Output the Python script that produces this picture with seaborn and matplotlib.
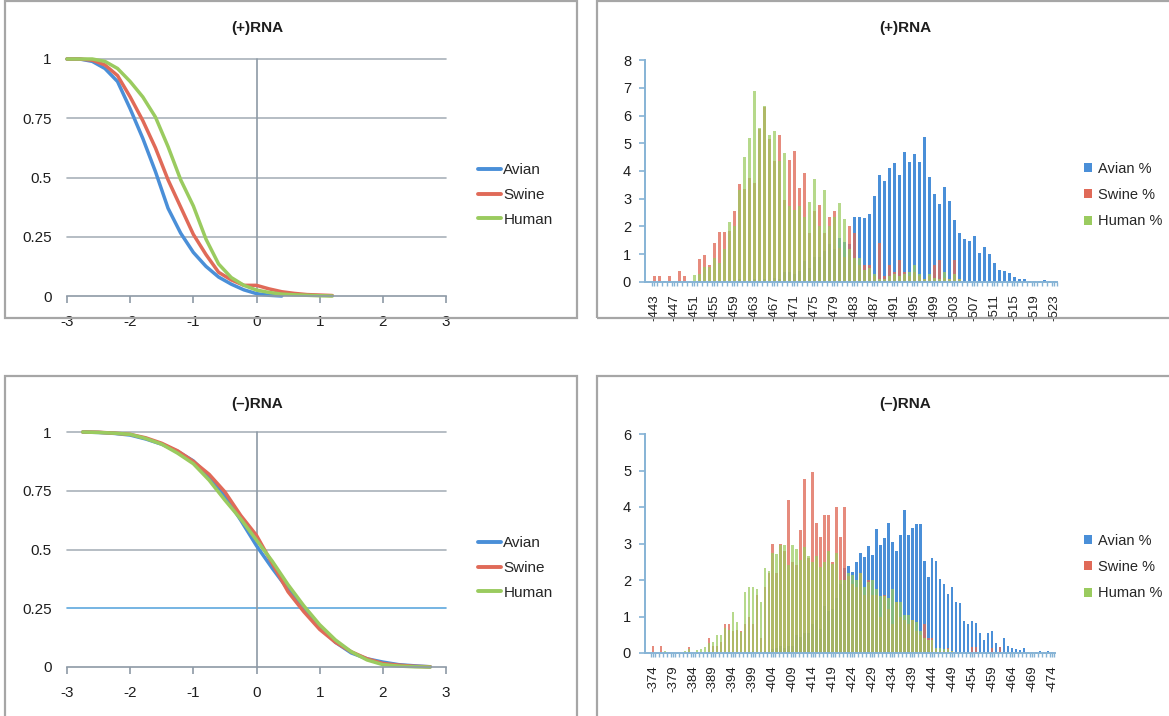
import numpy as np
import pandas as pd
import matplotlib
matplotlib.use("Agg")
import matplotlib.pyplot as plt
import seaborn as sns
from matplotlib.patches import Rectangle, Patch
from matplotlib.lines import Line2D

# ---------------- data ----------------
# Top-left: (+)RNA cumulative curves
plus_avian_x = [-3.0, -2.8, -2.6, -2.4, -2.2, -2.0, -1.8, -1.6, -1.4, -1.2, -1.0, -0.8, -0.6, -0.4, -0.2, 0.0, 0.2, 0.4]
plus_avian_y = [1.0, 1.0, 0.99, 0.96, 0.905, 0.79, 0.665, 0.525, 0.37, 0.265, 0.184, 0.125, 0.08, 0.05, 0.026, 0.01, 0.003, 0.0]
plus_swine_x = [-3.0, -2.8, -2.6, -2.4, -2.2, -2.0, -1.8, -1.6, -1.4, -1.2, -1.0, -0.8, -0.6, -0.4, -0.2, 0.0, 0.2, 0.4, 0.6, 0.8, 1.0, 1.2]
plus_swine_y = [1.0, 1.0, 0.995, 0.975, 0.93, 0.84, 0.74, 0.625, 0.49, 0.375, 0.26, 0.175, 0.1, 0.068, 0.045, 0.045, 0.03, 0.018, 0.011, 0.006, 0.004, 0.002]
plus_human_x = [-3.0, -2.8, -2.6, -2.4, -2.2, -2.0, -1.8, -1.6, -1.4, -1.2, -1.0, -0.8, -0.6, -0.4, -0.2, 0.0, 0.2, 0.4, 0.6, 0.8, 1.0, 1.2]
plus_human_y = [1.0, 1.0, 1.0, 0.99, 0.96, 0.905, 0.84, 0.755, 0.63, 0.49, 0.38, 0.24, 0.135, 0.078, 0.045, 0.025, 0.015, 0.008, 0.005, 0.003, 0.001, 0.0]

# Bottom-left: (-)RNA cumulative curves
minus_x = [-2.75, -2.5, -2.25, -2.0, -1.75, -1.5, -1.25, -1.0, -0.75, -0.5, -0.25, 0.0,
           0.25, 0.5, 0.75, 1.0, 1.25, 1.5, 1.75, 2.0, 2.25, 2.5, 2.75]
minus_avian_y = [1.0, 0.998, 0.994, 0.987, 0.97, 0.948, 0.918, 0.877, 0.81, 0.728, 0.625, 0.516,
                 0.42, 0.33, 0.255, 0.17, 0.105, 0.06, 0.035, 0.021, 0.01, 0.005, 0.001]
minus_swine_y = [1.0, 0.999, 0.995, 0.99, 0.975, 0.952, 0.92, 0.875, 0.82, 0.745, 0.645, 0.56,
                 0.44, 0.32, 0.235, 0.16, 0.105, 0.065, 0.035, 0.015, 0.008, 0.003, 0.001]
minus_human_y = [1.0, 0.998, 0.995, 0.99, 0.972, 0.948, 0.91, 0.865, 0.795, 0.71, 0.63, 0.54,
                 0.45, 0.35, 0.26, 0.18, 0.115, 0.065, 0.03, 0.01, 0.004, 0.001, 0.0]

# Top-right: (+)RNA histogram, categories -443 ... -523
plus_cats = [str(v) for v in range(-443, -524, -1)]
plus_avian_pct = [0, 0, 0.05, 0, 0, 0, 0, 0, 0, 0,
                  0, 0, 0, 0.05, 0, 0, 0, 0.1, 0, 0.05,
                  0.1, 0, 0.12, 0.05, 0.15, 0.1, 0.35, 0.35, 0.3, 0.4,
                  0.75, 0.52, 0.9, 0.9, 1.12, 1.38, 1.2, 1.57, 1.45, 1.38,
                  2.35, 2.35, 2.3, 2.45, 3.1, 3.85, 3.65, 4.1, 4.28, 3.86,
                  4.68, 4.32, 4.6, 4.33, 5.23, 3.8, 3.17, 2.81, 3.43, 2.92,
                  2.23, 1.76, 1.54, 1.49, 1.66, 1.06, 1.26, 1.0, 0.68, 0.44,
                  0.38, 0.32, 0.18, 0.11, 0.1, 0.02, 0.05, 0.05, 0.08, 0.02, 0.02]
plus_swine_pct = [0.2, 0.2, 0, 0.2, 0, 0.4, 0.2, 0, 0, 0.83,
                  0.98, 0.62, 1.4, 1.8, 1.8, 1.85, 2.57, 3.53, 3.35, 3.75,
                  3.57, 5.5, 6.3, 5.15, 4.35, 5.3, 2.95, 4.4, 4.73, 3.37,
                  3.94, 1.75, 2.57, 2.77, 1.78, 2.35, 2.57, 1.21, 0.9, 2.0,
                  1.75, 0.6, 0.6, 0.6, 0.2, 1.39, 0.2, 0.6, 0.37, 0.8,
                  0.37, 0.2, 0.37, 0.2, 0.1, 0.2, 0.6, 0.8, 0.15, 0.1,
                  0.8, 0.1, 0, 0, 0, 0, 0, 0, 0, 0,
                  0, 0, 0, 0, 0, 0, 0, 0, 0, 0, 0]
plus_human_pct = [0, 0, 0, 0.05, 0, 0, 0, 0, 0.25, 0.3,
                  0.55, 0.55, 0.87, 0.7, 1.2, 2.15, 2.0, 3.3, 4.5, 5.2,
                  6.9, 5.55, 6.33, 5.3, 5.45, 4.35, 4.64, 2.74, 2.6, 2.74,
                  2.35, 2.9, 3.71, 2.03, 3.32, 2.03, 2.35, 2.83, 2.27, 1.2,
                  0.85, 0.85, 0.43, 0.5, 0.3, 0.1, 0.1, 0.2, 0.3, 0.2,
                  0.3, 0.35, 0.6, 0.3, 0.1, 0.3, 0.15, 0.1, 0.35, 0.1,
                  0.3, 0.1, 0, 0, 0, 0, 0, 0, 0, 0,
                  0, 0, 0, 0, 0, 0, 0, 0, 0, 0, 0]

# Bottom-right: (-)RNA histogram, categories -374 ... -474
minus_cats = [str(v) for v in range(-374, -475, -1)]
minus_avian_pct = [0, 0, 0, 0, 0, 0, 0, 0, 0, 0,
                   0, 0, 0, 0, 0, 0, 0, 0, 0, 0,
                   0.03, 0, 0, 0, 0, 0.05, 0, 0, 0.05, 0,
                   0.1, 0.15, 0.2, 0.15, 0.2, 0.2, 0.5, 0.45, 0.55, 0.55,
                   0.8, 0.9, 0.65, 1.3, 1.15, 1.2, 1.5, 1.9, 2.32, 2.37,
                   2.23, 2.5, 2.75, 2.62, 2.93, 2.68, 3.39, 2.96, 3.16, 3.55,
                   3.05, 2.79, 3.23, 3.92, 3.23, 3.42, 3.53, 3.53, 2.52, 2.09,
                   2.59, 2.52, 2.02, 1.88, 1.63, 1.82, 1.41, 1.36, 0.89, 0.8,
                   0.89, 0.81, 0.54, 0.36, 0.56, 0.61, 0.28, 0.17, 0.42, 0.19,
                   0.13, 0.1, 0.08, 0.15, 0.04, 0.02, 0.02, 0.05, 0.02, 0.05, 0.04]
minus_swine_pct = [0.19, 0, 0.19, 0, 0, 0, 0, 0, 0, 0.17,
                   0, 0, 0, 0, 0.4, 0.2, 0.2, 0.3, 0.8, 0.8,
                   0.6, 0.63, 0.6, 0.8, 1.0, 0.8, 1.6, 0.4, 1.8, 2.2,
                   3.0, 2.2, 2.98, 2.8, 4.19, 2.5, 2.4, 3.37, 4.78, 2.6,
                   4.97, 3.57, 3.19, 3.78, 3.78, 2.5, 3.99, 3.19, 3.99, 2.1,
                   1.9, 1.8, 2.2, 1.6, 2.0, 1.6, 1.6, 1.0, 1.6, 1.2,
                   0.8, 1.4, 1.0, 0.9, 0.8, 0.9, 0.6, 0.5, 0.8, 0.4,
                   0.4, 0.1, 0.05, 0.05, 0.15, 0.05, 0, 0, 0, 0,
                   0.17, 0.17, 0, 0, 0, 0.15, 0, 0.17, 0, 0,
                   0, 0, 0, 0, 0, 0, 0, 0, 0, 0, 0]
minus_human_pct = [0, 0, 0, 0.05, 0, 0, 0, 0, 0.05, 0.1,
                   0, 0.08, 0.1, 0.17, 0.28, 0.31, 0.49, 0.49, 0.68, 0.63,
                   1.11, 0.86, 0.58, 1.66, 1.82, 1.82, 1.75, 1.41, 2.32, 2.26,
                   2.75, 2.71, 2.95, 2.95, 2.4, 2.95, 2.85, 2.55, 2.9, 2.65,
                   2.5, 2.65, 2.35, 2.5, 2.8, 2.45, 2.75, 2.0, 2.0, 2.2,
                   2.15, 2.0, 2.2, 1.8, 1.95, 2.0, 1.75, 1.55, 1.55, 1.5,
                   1.75, 1.4, 1.4, 1.05, 1.05, 0.9, 0.85, 0.6, 0.4, 0.35,
                   0.35, 0.15, 0.15, 0.1, 0.1, 0.05, 0, 0, 0, 0,
                   0, 0, 0, 0, 0, 0, 0, 0, 0, 0,
                   0, 0, 0, 0, 0, 0, 0, 0, 0, 0, 0]

line_names = ["Avian", "Swine", "Human"]
bar_names = ["Avian %", "Swine %", "Human %"]

# ---------------- style ----------------
BLUE = "#4a8fd8"
RED = "#e06a58"
GREEN = "#9acb5f"
GRID = "#a9b2ba"
AXC = "#8e9aa6"
BAR_AX = "#86b3d5"
FRAME = "#a6a6a6"
TXT = "#1e1e1e"

sns.set_theme(style="white")
plt.rcParams["font.family"] = ["Liberation Sans", "DejaVu Sans"]
plt.rcParams["axes.unicode_minus"] = False

W, H = 1169, 716
fig = plt.figure(figsize=(W / 100, H / 100), dpi=100)
fig.patch.set_facecolor("white")


def add_ax(x0, y0, x1, y1):
    return fig.add_axes([x0 / W, 1 - y1 / H, (x1 - x0) / W, (y1 - y0) / H])


# frames
for (x0, y0, x1, y1) in [(5, 1, 577, 318), (597, 1, 1172, 318), (5, 376, 577, 720), (597, 376, 1172, 720)]:
    fig.add_artist(Rectangle((x0 / W, 1 - y1 / H), (x1 - x0) / W, (y1 - y0) / H,
                             transform=fig.transFigure, fill=False, edgecolor=FRAME, lw=1.6))


def line_panel(ax, series, legend_y, blue_quarter=False):
    for v in [0.25, 0.5, 0.75, 1.0]:
        col = "#5da8de" if (blue_quarter and v == 0.25) else GRID
        ax.axhline(v, color=col, lw=1.2, zorder=0.5, clip_on=False)
    ax.axvline(0, color=AXC, lw=1.2, zorder=0.5)
    handles = []
    for name, xs, ys, col in series:
        sns.lineplot(x=xs, y=ys, ax=ax, color=col, linewidth=2.5, estimator=None, sort=False)
        handles.append(Line2D([0], [0], color=col, lw=2.8))
    for ln in ax.get_lines():
        ln.set_clip_on(False)
        ln.set_solid_joinstyle("round")
    ax.set_xlim(-3, 3)
    ax.set_ylim(0, 1)
    for sp in ["top", "right", "left"]:
        ax.spines[sp].set_visible(False)
    ax.spines["bottom"].set_color(AXC)
    ax.spines["bottom"].set_linewidth(1.2)
    ax.set_xticks(range(-3, 4))
    ax.set_xticklabels([str(v) for v in range(-3, 4)])
    ax.set_yticks([0, 0.25, 0.5, 0.75, 1])
    ax.set_yticklabels(["0", "0.25", "0.5", "0.75", "1"])
    ax.tick_params(axis="x", direction="out", length=5, width=1.2, color=AXC, pad=9,
                   labelsize=11, labelcolor=TXT, bottom=True)
    ax.tick_params(axis="y", length=0, pad=11, labelsize=11, labelcolor=TXT)
    ax.set_xlabel("")
    ax.set_ylabel("")
    ax.set_facecolor("none")
    ax.legend(handles, line_names, loc="center left", bbox_to_anchor=(466 / W, 1 - legend_y / H),
              bbox_transform=fig.transFigure, frameon=False, fontsize=11, handlelength=1.5,
              handletextpad=0.15, labelspacing=0.7, borderpad=0.3)


def bar_panel(ax, cats, avian, swine, human, ymax, step, xlim, legend_y):
    df = pd.DataFrame({
        "cat": cats * 3,
        "val": list(avian) + list(swine) + list(human),
        "series": [bar_names[0]] * len(cats) + [bar_names[1]] * len(cats) + [bar_names[2]] * len(cats),
    })
    sns.barplot(data=df, x="cat", y="val", hue="series", order=cats, hue_order=bar_names,
                palette=[BLUE, RED, GREEN], dodge=False, width=0.6, saturation=1,
                errorbar=None, legend=False, ax=ax, linewidth=0)
    for cont, a in zip(ax.containers, [1.0, 0.78, 0.72]):
        for p in cont:
            p.set_alpha(a)
    n = len(cats)
    ax.set_xlim(*xlim)
    ax.set_ylim(0, ymax)
    for sp in ["top", "right"]:
        ax.spines[sp].set_visible(False)
    for sp in ["left", "bottom"]:
        ax.spines[sp].set_color(BAR_AX)
        ax.spines[sp].set_linewidth(1.4)
    ax.set_xticks(list(range(0, n, step)))
    ax.set_xticklabels(cats[::step], rotation=90)
    ax.set_xticks(np.arange(-0.5, n, 1), minor=True)
    ax.tick_params(axis="x", which="major", length=3, width=1, color=BAR_AX, pad=6,
                   labelsize=9.5, labelcolor=TXT, bottom=True)
    ax.tick_params(axis="x", which="minor", length=3, width=1, color=BAR_AX, bottom=True)
    ax.set_yticks(range(0, ymax + 1))
    ax.tick_params(axis="y", length=4, width=1.2, color=BAR_AX, pad=6, labelsize=10.5,
                   labelcolor=TXT, left=True)
    ax.set_xlabel("")
    ax.set_ylabel("")
    ax.set_facecolor("none")
    handles = [Patch(facecolor=c, edgecolor="none") for c in [BLUE, RED, GREEN]]
    ax.legend(handles, bar_names, loc="center left", bbox_to_anchor=(1072 / W, 1 - legend_y / H),
              bbox_transform=fig.transFigure, frameon=False, fontsize=10.5, handlelength=0.6,
              handleheight=0.6, handletextpad=0.35, labelspacing=0.85, borderpad=0.3)


ax1 = add_ax(67, 59, 446, 296)
line_panel(ax1, [("Avian", plus_avian_x, plus_avian_y, BLUE),
                 ("Swine", plus_swine_x, plus_swine_y, RED),
                 ("Human", plus_human_x, plus_human_y, GREEN)], 195)

ax3 = add_ax(67, 432, 446, 667)
line_panel(ax3, [("Avian", minus_x, minus_avian_y, BLUE),
                 ("Swine", minus_x, minus_swine_y, RED),
                 ("Human", minus_x, minus_human_y, GREEN)], 568, blue_quarter=True)

ax2 = add_ax(645, 60, 1057, 282)
bar_panel(ax2, plus_cats, plus_avian_pct, plus_swine_pct, plus_human_pct, 8, 4, (-1.8, 80.6), 195)

ax4 = add_ax(645, 434, 1055, 653)
bar_panel(ax4, minus_cats, minus_avian_pct, minus_swine_pct, minus_human_pct, 6, 5, (-2.0, 100.75), 567)

# titles
for (x, y, t) in [(257, 28, "(+)RNA"), (905, 28, "(+)RNA"), (257, 404, "(\u2013)RNA"), (905, 404, "(\u2013)RNA")]:
    fig.text(x / W, 1 - y / H, t, ha="center", va="center", fontsize=11, fontweight="bold", color=TXT)

fig.savefig("out.png", dpi=100, facecolor="white")
